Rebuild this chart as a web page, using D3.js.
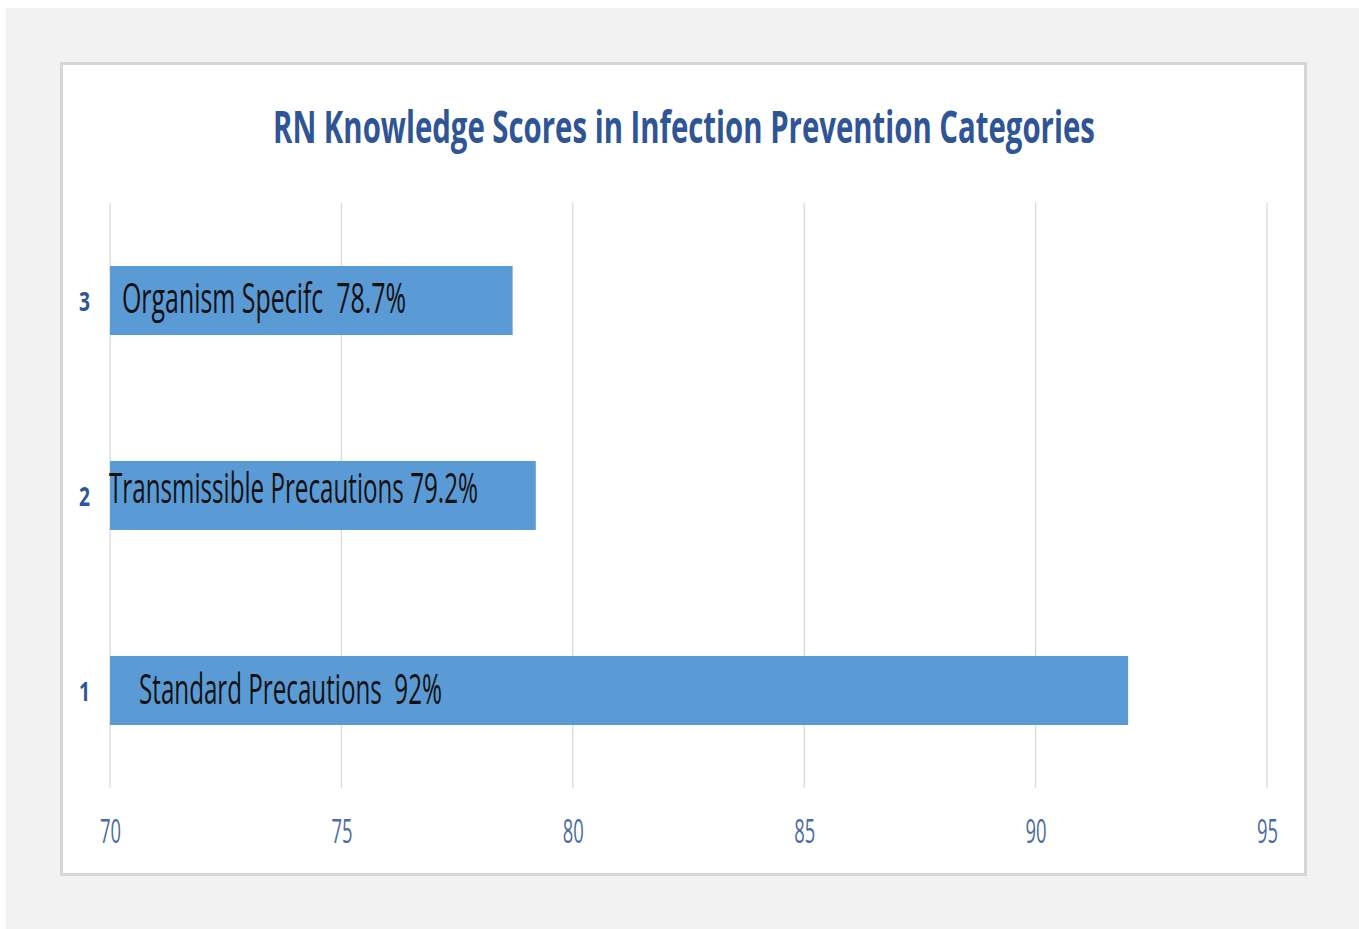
<!DOCTYPE html>
<html><head><meta charset="utf-8">
<script src="https://cdn.jsdelivr.net/npm/d3@7/dist/d3.min.js"></script>
<style>body{margin:0;background:#fff;}svg{display:block;}</style>
</head><body>
<svg id="c" width="1359" height="929"></svg>
<script>
const categories = ["1", "2", "3"];
const values = [92, 79.2, 78.7];
const labels = ["Standard Precautions  92%", "Transmissible Precautions 79.2%", "Organism Specifc  78.7%"];
const xTicks = [70, 75, 80, 85, 90, 95];
const title = "RN Knowledge Scores in Infection Prevention Categories";

const svg = d3.select("#c");
svg.append("rect").attr("x",6).attr("y",8).attr("width",1353).attr("height",921).attr("fill","#f2f2f2");
svg.append("rect").attr("x",61.5).attr("y",63.5).attr("width",1244).attr("height",811)
  .attr("fill","#fff").attr("stroke","#d6d6d6").attr("stroke-width",3);

const x = d3.scaleLinear().domain([70,95]).range([110,1267]);
const y = d3.scaleBand().domain(categories.slice().reverse()).range([203,788]).paddingInner(0.646).paddingOuter(0.323);

// gridlines
svg.append("g").selectAll("line").data(xTicks).join("line")
  .attr("x1",d=>x(d)).attr("x2",d=>x(d)).attr("y1",203).attr("y2",788)
  .attr("stroke","#d9d9d9").attr("stroke-width",1.3);

// bars
svg.append("g").selectAll("rect").data(categories).join("rect")
  .attr("x",x(70)).attr("y",d=>y(d))
  .attr("width",(d,i)=>x(values[i])-x(70)).attr("height",y.bandwidth())
  .attr("fill","#5b9bd5");

// x axis
const xa = svg.append("g").attr("transform","translate(0,843)").call(d3.axisBottom(x).tickValues(xTicks).tickSize(0).tickPadding(0));
xa.select(".domain").remove();
xa.selectAll("text").attr("dy",0).attr("font-family","Open Sans").attr("font-size",32)
  .attr("fill","#4a6ba5").attr("textLength",21).attr("lengthAdjust","spacingAndGlyphs");

// y axis
const ya = svg.append("g").attr("transform","translate(90,0)").call(d3.axisLeft(y).tickSize(0).tickPadding(0));
ya.select(".domain").remove();
ya.selectAll("text").attr("dy",0).attr("y",10).attr("font-family","Open Sans").attr("font-weight","bold").attr("font-size",26)
  .attr("fill","#2f5597").attr("textLength",11).attr("lengthAdjust","spacingAndGlyphs");

// bar labels
const labelOffset = [29, -1, 12];
const labelWidth = [303, 369, 284];
const labelDy = [13, 7, 12];
svg.append("g").selectAll("text").data(categories).join("text")
  .attr("x",(d,i)=>x(70)+labelOffset[i])
  .attr("y",(d,i)=>y(d)+y.bandwidth()/2+labelDy[i])
  .attr("font-family","Open Sans").attr("font-size",42).attr("fill","#111")
  .attr("textLength",(d,i)=>labelWidth[i]).attr("lengthAdjust","spacingAndGlyphs")
  .style("white-space","pre")
  .text((d,i)=>labels[i]);

// title (horizontally condensed via transform)
const tg = svg.append("g");
const tt = tg.append("text").attr("x",0).attr("y",0).attr("font-family","Open Sans").attr("font-weight","bold")
  .attr("font-size",45).attr("fill","#2f5597").text(title);
const natural = tt.node().getComputedTextLength();
tg.attr("transform",`translate(273,143) scale(${822/natural},1)`);
</script>
</body></html>
